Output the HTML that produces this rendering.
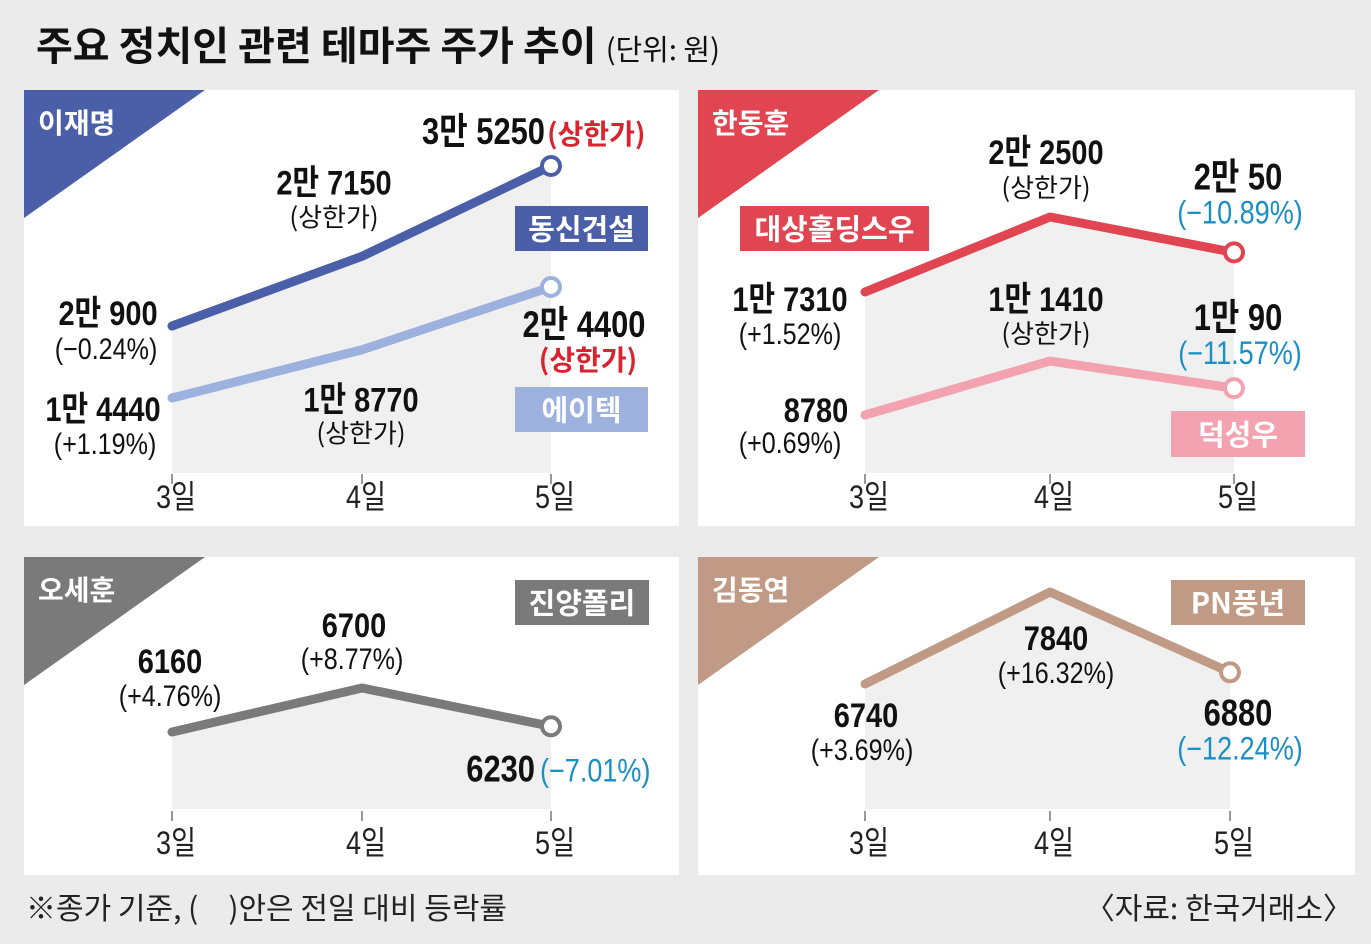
<!DOCTYPE html>
<html><head><meta charset="utf-8"><style>
html,body{margin:0;padding:0;background:#ebebeb;}
svg{display:block;font-family:"Liberation Sans Narrow","Liberation Sans","Noto Sans CJK KR",sans-serif;}
.k{font-family:"Noto Sans CJK KR","Liberation Sans",sans-serif;}
</style></head><body>
<svg id="c" width="1371" height="944" viewBox="0 0 1371 944" xmlns="http://www.w3.org/2000/svg">
<rect x="0" y="0" width="1371" height="944" fill="#ebebeb"/>
<text x="36" y="60" font-size="40" font-weight="bold" class="k" fill="#111">주요 정치인 관련 테마주 주가 추이 <tspan font-size="29" font-weight="normal">(단위: 원)</tspan></text>
<text x="26" y="919" font-size="30" class="k" fill="#222">※종가 기준, (　)안은 전일 대비 등락률</text>
<text x="1353" y="919" font-size="30" class="k" fill="#222" text-anchor="end">〈자료: 한국거래소〉</text>
</svg>
<script>
const days=["3일","4일","5일"];
const dongsin=[20900,27150,35250];
const aitec=[14440,18770,24400];
const daesang=[17310,22500,20050];
const duksung=[8780,11410,10090];
const jinyang=[6160,6700,6230];
const pnpung=[6740,7840,6880];
const NS="http://www.w3.org/2000/svg";
const svg=document.getElementById('c');
function mk(tag,attrs,parent){const e=document.createElementNS(NS,tag);for(const k in attrs)e.setAttribute(k,attrs[k]);(parent||svg).appendChild(e);return e;}
function txt(x,y,s,size,opt,parent){opt=opt||{};
  const sc=opt.k?1:0.84, fs=opt.k?size:size*1.15;
  const t=mk('text',{x:0,y:0,transform:`translate(${x},${y}) scale(${sc},1)`,'font-size':fs,'text-anchor':opt.anchor||'middle',fill:opt.fill||'#111','font-weight':opt.bold?'bold':'normal'},parent);if(opt.k)t.setAttribute('class','k');t.textContent=s;return t;}
function fmt(v){const m=Math.floor(v/10000),r=v%10000;return m>0?(m+"만 "+r):String(r);}
function panel(name,px,py,pw,ph,color,title){
  const g=mk('g',{});
  
  
  mk('rect',{x:px,y:py,width:pw,height:ph,fill:'#ffffff'},g);
  const tri=mk('polygon',{points:`${px},${py} ${px+181},${py} ${px},${py+128}`,fill:color},g);
  
  
  const tt=txt(px+14,py+43,title,28,{anchor:'start',fill:'#fff',bold:true,k:true},g);
  
  
  return g;
}
function series(g,data,xs,yf,color,name,areaBottom){
  const pts=data.map((v,i)=>[xs[i],yf(v)]);
  if(areaBottom){
    const a=mk('polygon',{points:pts.map(p=>p.join(',')).join(' ')+` ${xs[2]},${areaBottom} ${xs[0]},${areaBottom}`,fill:'#f0f0f0'},g);
    
    
  }
  const l=mk('polyline',{points:pts.map(p=>p.join(',')).join(' '),fill:'none',stroke:color,'stroke-width':9,'stroke-linecap':'round','stroke-linejoin':'round'},g);
  
  
  const c=mk('circle',{cx:pts[2][0],cy:pts[2][1],r:9,fill:'#fff',stroke:color,'stroke-width':4},g);
  
  
  return pts;
}
function axis(g,xs,yTick,yLab){
  xs.forEach((x,i)=>{
    const t=mk('line',{x1:x,y1:yTick,x2:x,y2:yTick+10,stroke:'#555','stroke-width':1.2},g);
    
    
    const l=txt(x+4,yLab,days[i],28,{fill:'#222'},g);
    
    
  });
}
function box(g,x,y,w,h,color,s,name){
  const r=mk('rect',{x:x,y:y,width:w,height:h,fill:color},g);
  
  
  const t=txt(x+w/2,y+h/2+11,s,29,{fill:'#fff',bold:true,k:true},g);
  
  
}
function lab(g,x,y,s,size,opt,name){const t=txt(x,y,s,size,opt,g);return t;}
function lin(v0,y0,k){return v=>y0-(v-v0)*k;}

// TL
let g=panel('panel-lee-jaemyung',24,90,655,436,'#4a5fa8','이재명');
let xs=[172,362,551];
let yA=lin(20900,326,0.01115);
let pA=series(g,dongsin,xs,yA,'#4a5fa8','dongsin',473);
let pB=series(g,aitec,xs,yA,'#9cb1de','aitec',null);
axis(g,xs,474,508);
box(g,515,206,133,45,'#4a5fa8','동신건설','dongsin-label');
box(g,515,387,133,45,'#9cb1de','에이텍','aitec-label');
lab(g,108,pA[0][1]-1,fmt(dongsin[0]),30,{bold:true},'value-label');
lab(g,106,pA[0][1]+33,'(−0.24%)',26,{},'change-label');
lab(g,334,pA[1][1]-62,fmt(dongsin[1]),30,{bold:true},'value-label');
lab(g,334,pA[1][1]-30,'(상한가)',26,{k:true},'change-label');
lab(g,545,pA[2][1]-22,fmt(dongsin[2]),32,{bold:true,anchor:'end'},'value-label');
lab(g,547,pA[2][1]-22,'(상한가)',28,{bold:true,anchor:'start',fill:'#d9232e',k:true},'change-label');
lab(g,103,pB[0][1]+23,fmt(aitec[0]),30,{bold:true},'value-label');
lab(g,105,pB[0][1]+56,'(+1.19%)',26,{},'change-label');
lab(g,361,pB[1][1]+62,fmt(aitec[1]),30,{bold:true},'value-label');
lab(g,361,pB[1][1]+93,'(상한가)',26,{k:true},'change-label');
lab(g,584,pB[2][1]+50,fmt(aitec[2]),32,{bold:true},'value-label');
lab(g,588,pB[2][1]+83,'(상한가)',28,{bold:true,fill:'#d9232e',k:true},'change-label');

// TR
g=panel('panel-han-donghoon',698,90,657,436,'#e04551','한동훈');
xs=[865,1050,1234];
let yC=lin(17310,292,0.01445), yD=lin(8780,415,0.0205);
let pC=series(g,daesang,xs,yC,'#e04551','daesang',473);
let pD=series(g,duksung,xs,yD,'#f3a2b0','duksung',null);
axis(g,xs,474,508);
box(g,740,206,189,45,'#e04551','대상홀딩스우','daesang-label');
box(g,1171,411,134,46,'#f3a2b0','덕성우','duksung-label');
lab(g,790,pC[0][1]+19,fmt(daesang[0]),30,{bold:true},'value-label');
lab(g,790,pC[0][1]+52,'(+1.52%)',26,{},'change-label');
lab(g,1046,pC[1][1]-53,fmt(daesang[1]),30,{bold:true},'value-label');
lab(g,1046,pC[1][1]-20,'(상한가)',26,{k:true},'change-label');
lab(g,1238,pC[2][1]-63,fmt(daesang[2]),32,{bold:true},'value-label');
lab(g,1240,pC[2][1]-29,'(−10.89%)',28,{fill:'#1a8fc4'},'change-label');
lab(g,816,pD[0][1]+7,fmt(duksung[0]),30,{bold:true},'value-label');
lab(g,790,pD[0][1]+38,'(+0.69%)',26,{},'change-label');
lab(g,1046,pD[1][1]-50,fmt(duksung[1]),30,{bold:true},'value-label');
lab(g,1046,pD[1][1]-18,'(상한가)',26,{k:true},'change-label');
lab(g,1238,pD[2][1]-58,fmt(duksung[2]),32,{bold:true},'value-label');
lab(g,1240,pD[2][1]-24,'(−11.57%)',28,{fill:'#1a8fc4'},'change-label');

// BL
g=panel('panel-oh-sehoon',24,557,655,318,'#7a7a7a','오세훈');
xs=[172,362,551];
let yE=lin(6160,732,0.0815);
let pE=series(g,jinyang,xs,yE,'#7a7a7a','jinyang',809);
axis(g,xs,811,854);
box(g,515,580,134,45,'#7a7a7a','진양폴리','jinyang-label');
lab(g,170,pE[0][1]-59,String(jinyang[0]),30,{bold:true},'value-label');
lab(g,170,pE[0][1]-26,'(+4.76%)',26,{},'change-label');
lab(g,354,pE[1][1]-51,String(jinyang[1]),30,{bold:true},'value-label');
lab(g,352,pE[1][1]-19,'(+8.77%)',26,{},'change-label');
lab(g,535,pE[2][1]+55,String(jinyang[2]),32,{bold:true,anchor:'end'},'value-label');
lab(g,540,pE[2][1]+55,'(−7.01%)',28,{anchor:'start',fill:'#1a8fc4'},'change-label');

// BR
g=panel('panel-kim-dongyeon',698,557,657,318,'#c09a84','김동연');
xs=[865,1050,1230];
let yF=lin(6740,684,0.0836);
let pF=series(g,pnpung,xs,yF,'#c09a84','pnpung',809);
axis(g,xs,811,854);
box(g,1171,580,134,45,'#c09a84','PN풍년','pnpung-label');
lab(g,866,pF[0][1]+43,String(pnpung[0]),30,{bold:true},'value-label');
lab(g,862,pF[0][1]+76,'(+3.69%)',26,{},'change-label');
lab(g,1056,pF[1][1]+58,String(pnpung[1]),30,{bold:true},'value-label');
lab(g,1056,pF[1][1]+91,'(+16.32%)',26,{},'change-label');
lab(g,1238,pF[2][1]+53,String(pnpung[2]),32,{bold:true},'value-label');
lab(g,1240,pF[2][1]+87,'(−12.24%)',28,{fill:'#1a8fc4'},'change-label');
</script>
</body></html>
